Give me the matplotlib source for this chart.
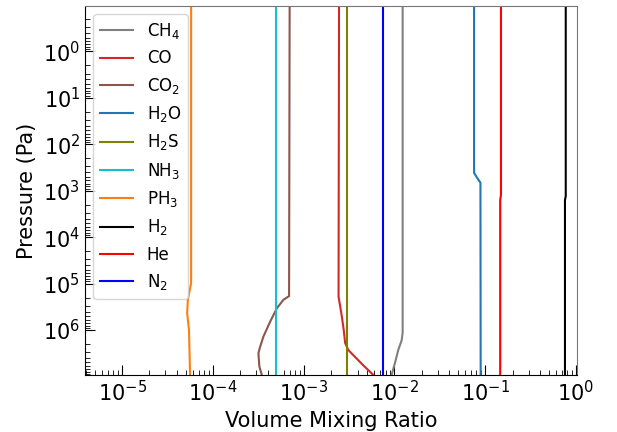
#!/usr/bin/env python3

import numpy as np
import matplotlib
matplotlib.use("Agg")
import matplotlib.pyplot as plt


#- Pressure levels (Pa) and volume mixing ratios
ch4_p = [0.105, 1.15e6, 1.66e6, 2.7e6, 4.5e6, 9.3e6]
ch4_vmr = [0.0123, 0.0123, 0.0120, 0.0110, 0.0103, 0.0093]

co_p = [0.105, 1.9e5, 5.1e5, 1.0e6, 1.9e6, 2.7e6, 5.8e6, 9.3e6]
co_vmr = [0.00245, 0.00242, 0.00263, 0.00276, 0.00286, 0.0031, 0.00454, 0.00586]

co2_p = [0.105, 1.86e5, 2.24e5, 3.4e5, 6.6e5, 1.38e6, 2.3e6, 3.16e6, 6.2e6, 9.3e6]
co2_vmr = [7.0e-4, 6.9e-4, 5.97e-4, 5.06e-4, 4.27e-4, 3.6e-4, 3.31e-4, 3.17e-4, 3.25e-4, 3.46e-4]

h2o_p = [0.105, 4.1e2, 5.2e2, 6.7e2, 9.3e6]
h2o_vmr = [0.0753, 0.0753, 0.081, 0.0885, 0.089]

h2s_p = [0.105, 9.3e6]
h2s_vmr = [0.0030, 0.0030]

nh3_p = [0.105, 9.3e6]
nh3_vmr = [5.0e-4, 5.0e-4]

ph3_p = [0.105, 9.8e4, 2.2e5, 4.3e5, 1.0e6, 9.3e6]
ph3_vmr = [5.75e-5, 5.75e-5, 5.3e-5, 5.2e-5, 5.45e-5, 5.6e-5]

h2_p = [0.105, 1.3e3, 1.6e3, 9.3e6]
h2_vmr = [0.77, 0.77, 0.755, 0.755]

he_p = [0.105, 1.2e3, 1.6e3, 9.3e6]
he_vmr = [0.149, 0.149, 0.146, 0.146]

n2_p = [0.105, 9.3e6]
n2_vmr = [0.00755, 0.00755]

species = ["CH$_4$", "CO", "CO$_2$", "H$_2$O", "H$_2$S", "NH$_3$", "PH$_3$", "H$_2$", "He", "N$_2$"]
colors = ["tab:gray", "tab:red", "tab:brown", "tab:blue", "olive",
          "tab:cyan", "tab:orange", "black", "red", "blue"]
profiles = [(ch4_vmr, ch4_p), (co_vmr, co_p), (co2_vmr, co2_p), (h2o_vmr, h2o_p),
            (h2s_vmr, h2s_p), (nh3_vmr, nh3_p), (ph3_vmr, ph3_p), (h2_vmr, h2_p),
            (he_vmr, he_p), (n2_vmr, n2_p)]

xticks = [1e-5, 1e-4, 1e-3, 1e-2, 1e-1, 1e0]
yticks = [1e0, 1e1, 1e2, 1e3, 1e4, 1e5, 1e6]


f, ax = plt.subplots(1, 1)
f.set_figwidth(6.17)
f.set_figheight(4.32)

for (x, p), name, c in zip(profiles, species, colors):
    ax.plot(x, p, color=c, lw=1.5, label=name)

ax.set_xscale("log")
ax.set_yscale("log")
ax.set_xticks(xticks)
ax.set_yticks(yticks)
ax.set_xlim(3.9e-6, 1.025)
ax.set_ylim(9.3e6, 0.105)

ax.set_xlabel("Volume Mixing Ratio", fontsize=15)
ax.set_ylabel("Pressure (Pa)", fontsize=15)
ax.tick_params(axis="both", which="major", direction="in", length=7, labelsize=15,
               top=False, right=False)
ax.tick_params(axis="both", which="minor", direction="in", length=3.5,
               top=False, right=False)
ax.yaxis.set_minor_locator(matplotlib.ticker.LogLocator(base=10, subs=np.arange(2, 10), numticks=20))
ax.yaxis.set_minor_formatter(matplotlib.ticker.NullFormatter())
ax.xaxis.set_minor_formatter(matplotlib.ticker.NullFormatter())

for s in ["top", "right"]:
    ax.spines[s].set_color("#777777")

ax.legend(loc="upper left", fontsize=12)

plt.subplots_adjust(left=0.1378, right=0.9352, top=0.986, bottom=0.132)
plt.savefig("out.png", dpi=100)
